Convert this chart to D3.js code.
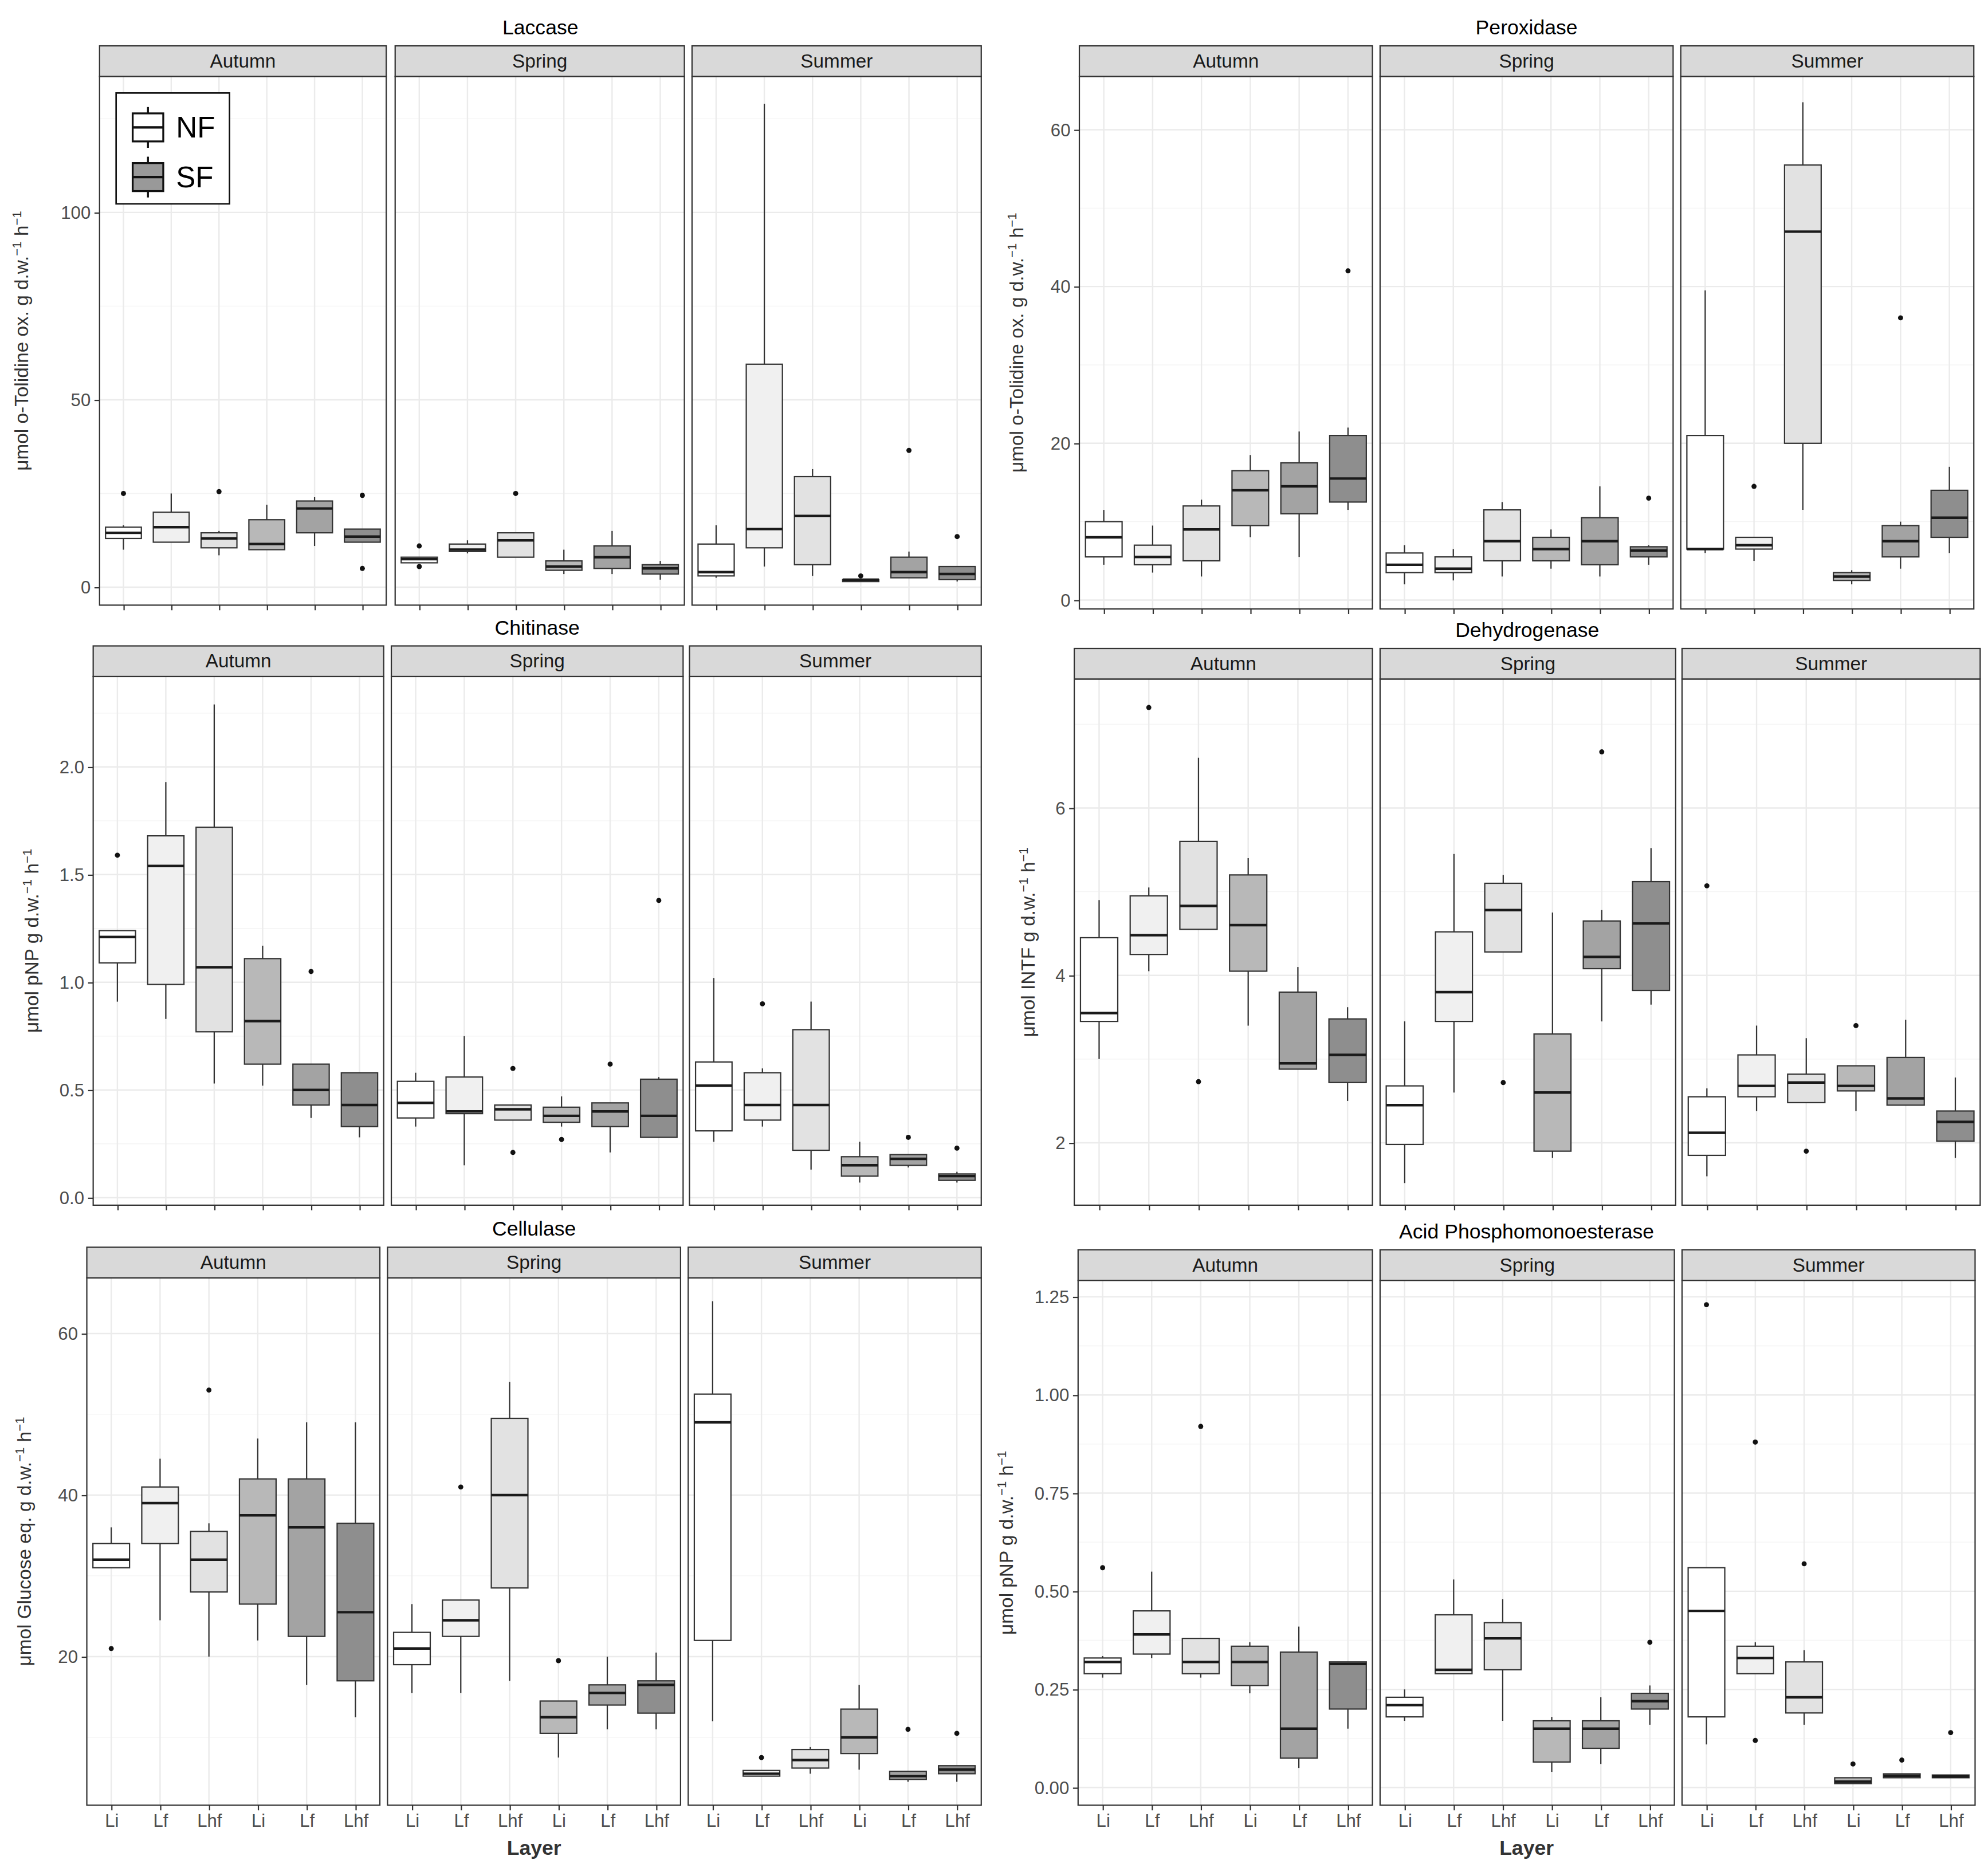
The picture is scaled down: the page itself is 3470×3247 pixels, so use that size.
<!DOCTYPE html>
<html><head><meta charset="utf-8">
<script src="https://cdn.jsdelivr.net/npm/d3@7"></script>
<style>body{margin:0;background:#fff}text{font-family:"Liberation Sans",Arial,sans-serif}</style>
</head><body><svg id="c" width="3470" height="3247" viewBox="0 0 1560 1460"></svg>
<script>
// each box: [lowWhisker, q1, median, q3, highWhisker, outliers]
const layers = ['Li', 'Lf', 'Lhf', 'Li', 'Lf', 'Lhf'];
const seasons = ['Autumn', 'Spring', 'Summer'];
const fills = ['#ffffff', '#f0f0f0', '#e2e2e2', '#b8b8b8', '#a3a3a3', '#8e8e8e'];

const laccaseAutumn = [[10,13,14.5,16,16.5,[25]],[12,12,16,20,25,[]],[8.5,10.5,13,14.5,15,[25.5]],[10,10,11.5,18,22,[]],[11,14.5,21,23,24,[]],[12,12,13.5,15.5,15.5,[24.5,5]]];
const laccaseSpring = [[6.5,6.5,7.5,8,8,[11,5.5]],[9,9.5,10,11.5,12.5,[]],[8,8,12.5,14.5,14.5,[25]],[3.5,4.5,5.5,7,10,[]],[3.5,5,8,11,15,[]],[2,3.5,5,6,7,[]]];
const laccaseSummer = [[2.5,3,4,11.5,16.5,[]],[5.5,10.5,15.5,59.5,129,[]],[3,6,19,29.5,31.5,[]],[1.5,1.5,2,2,2,[3]],[2.5,2.5,4,8,9.5,[36.5]],[1.5,2,3.5,5.5,5.5,[13.5]]];

const peroxAutumn = [[4.5,5.5,8,10,11.5,[]],[3.5,4.5,5.5,7,9.5,[]],[3,5,9,12,12.8,[]],[8,9.5,14,16.5,18.5,[]],[5.5,11,14.5,17.5,21.5,[]],[11.5,12.5,15.5,21,22,[42]]];
const peroxSpring = [[2,3.5,4.5,6,7,[]],[2.5,3.5,4,5.5,6.5,[]],[3,5,7.5,11.5,12.5,[]],[4,5,6.5,8,9,[]],[3,4.5,7.5,10.5,14.5,[]],[4.5,5.5,6.3,6.8,7,[13]]];
const peroxSummer = [[6,6.5,6.5,21,39.5,[]],[5,6.5,7,8,8,[14.5]],[11.5,20,47,55.5,63.5,[]],[2,2.5,3,3.5,3.8,[]],[4,5.5,7.5,9.5,10,[36]],[6,8,10.5,14,17,[]]];

const chitAutumn = [[0.91,1.09,1.21,1.24,1.24,[1.59]],[0.83,0.99,1.54,1.68,1.93,[]],[0.53,0.77,1.07,1.72,2.29,[]],[0.52,0.62,0.82,1.11,1.17,[]],[0.37,0.43,0.5,0.62,0.62,[1.05]],[0.28,0.33,0.43,0.58,0.58,[]]];
const chitSpring = [[0.33,0.37,0.44,0.54,0.58,[]],[0.15,0.39,0.4,0.56,0.75,[]],[0.36,0.36,0.41,0.43,0.43,[0.6,0.21]],[0.33,0.35,0.38,0.42,0.47,[0.27]],[0.21,0.33,0.4,0.44,0.44,[0.62]],[0.28,0.28,0.38,0.55,0.56,[1.38]]];
const chitSummer = [[0.26,0.31,0.52,0.63,1.02,[]],[0.33,0.36,0.43,0.58,0.6,[0.9]],[0.13,0.22,0.43,0.78,0.91,[]],[0.07,0.1,0.15,0.19,0.26,[]],[0.14,0.15,0.18,0.2,0.2,[0.28]],[0.07,0.08,0.1,0.11,0.12,[0.23]]];

const dehydAutumn = [[3.0,3.45,3.55,4.45,4.9,[]],[4.05,4.25,4.48,4.95,5.05,[7.2]],[4.55,4.55,4.83,5.6,6.6,[2.73]],[3.4,4.05,4.6,5.2,5.4,[]],[2.88,2.88,2.95,3.8,4.1,[]],[2.5,2.72,3.05,3.48,3.62,[]]];
const dehydSpring = [[1.52,1.98,2.45,2.68,3.45,[]],[2.6,3.45,3.8,4.52,5.45,[]],[4.28,4.28,4.78,5.1,5.2,[2.72]],[1.82,1.9,2.6,3.3,4.75,[]],[3.45,4.08,4.22,4.65,4.78,[6.67]],[3.65,3.82,4.62,5.12,5.52,[]]];
const dehydSummer = [[1.6,1.85,2.12,2.55,2.65,[5.07]],[2.38,2.55,2.68,3.05,3.4,[]],[2.48,2.48,2.72,2.82,3.25,[1.9]],[2.38,2.62,2.68,2.92,2.92,[3.4]],[2.45,2.45,2.53,3.02,3.47,[]],[1.82,2.02,2.25,2.38,2.78,[]]];

const cellAutumn = [[31,31,32,34,36,[21]],[24.5,34,39,41,44.5,[]],[20,28,32,35.5,36.5,[53]],[22,26.5,37.5,42,47,[]],[16.5,22.5,36,42,49,[]],[12.5,17,25.5,36.5,49,[]]];
const cellSpring = [[15.5,19,21,23,26.5,[]],[15.5,22.5,24.5,27,27,[41]],[17,28.5,40,49.5,54,[]],[7.5,10.5,12.5,14.5,14.5,[19.5]],[11,14,15.5,16.5,20,[]],[11,13,16.5,17,20.5,[]]];
const cellSummer = [[12,22,49,52.5,64,[]],[5.2,5.2,5.5,5.9,5.9,[7.5]],[5.5,6.2,7.2,8.5,8.8,[]],[6,8,10,13.5,16.5,[]],[4.5,4.8,5.2,5.8,5.8,[11]],[4.5,5.5,6,6.5,6.5,[10.5]]];

const phosAutumn = [[0.28,0.29,0.32,0.33,0.335,[0.56]],[0.33,0.34,0.39,0.45,0.55,[]],[0.28,0.29,0.32,0.38,0.38,[0.92]],[0.24,0.26,0.32,0.36,0.37,[]],[0.05,0.075,0.15,0.345,0.41,[]],[0.15,0.2,0.315,0.32,0.32,[]]];
const phosSpring = [[0.17,0.18,0.21,0.23,0.25,[]],[0.29,0.29,0.3,0.44,0.53,[]],[0.17,0.3,0.38,0.42,0.48,[]],[0.04,0.065,0.15,0.17,0.18,[]],[0.06,0.1,0.15,0.17,0.23,[]],[0.16,0.2,0.22,0.24,0.26,[0.37]]];
const phosSummer = [[0.11,0.18,0.45,0.56,0.56,[1.23]],[0.29,0.29,0.33,0.36,0.37,[0.88,0.12]],[0.16,0.19,0.23,0.32,0.35,[0.57]],[0.01,0.01,0.015,0.025,0.025,[0.06]],[0.025,0.025,0.03,0.035,0.035,[0.07]],[0.025,0.025,0.028,0.032,0.032,[0.14]]];

const laccaseTicks = [0, 50, 100];
const peroxTicks = [0, 20, 40, 60];
const chitTicks = [0, 0.5, 1, 1.5, 2];
const dehydTicks = [2, 4, 6];
const cellTicks = [20, 40, 60];
const phosTicks = [0, 0.25, 0.5, 0.75, 1, 1.25];

const svg = d3.select('#c');

function drawChart(o) {
  const g = svg.append('g');
  const y = d3.scaleLinear().domain(o.domain).range([o.bottom, o.top]);
  const step = (o.ticks[1] - o.ticks[0]) / 2;
  const minor = d3.range(o.ticks[0] - step, o.domain[1], step * 2).filter(v => v > o.domain[0] && v < o.domain[1]);
  g.append('text').attr('x', (o.panels[0][0] + o.panels[2][1]) / 2).attr('y', o.top - 33)
    .attr('text-anchor', 'middle').attr('font-size', 16).text(o.title);
  const ylab = g.append('text').attr('transform', `translate(${o.ylabX},${(o.top + o.bottom) / 2}) rotate(-90)`)
    .attr('text-anchor', 'middle').attr('font-size', 15).attr('fill', '#333');
  o.ylabel.forEach(p => ylab.append('tspan').attr('baseline-shift', p[1] ? 'super' : null)
    .attr('font-size', p[1] ? 10 : 15).text(p[0]));
  // y axis
  const ya = g.append('g').attr('transform', `translate(${o.panels[0][0]},0)`)
    .call(d3.axisLeft(y).tickValues(o.ticks).tickSize(4).tickFormat(o.fmt));
  ya.select('.domain').remove();
  ya.selectAll('line').attr('stroke', '#333');
  ya.selectAll('text').attr('font-size', 14).attr('fill', '#4d4d4d').attr('font-family', 'Liberation Sans, Arial');
  o.panels.forEach((pr, si) => {
    const x = d3.scalePoint().domain(d3.range(6)).range(pr).padding(0.5);
    const bw = x.step() * 0.75;
    const p = g.append('g');
    minor.forEach(v => p.append('line').attr('x1', pr[0]).attr('x2', pr[1]).attr('y1', y(v)).attr('y2', y(v)).attr('stroke', '#f4f4f4').attr('stroke-width', 0.6));
    o.ticks.forEach(v => p.append('line').attr('x1', pr[0]).attr('x2', pr[1]).attr('y1', y(v)).attr('y2', y(v)).attr('stroke', '#ebebeb').attr('stroke-width', 1.1));
    d3.range(6).forEach(i => p.append('line').attr('x1', x(i)).attr('x2', x(i)).attr('y1', o.top).attr('y2', o.bottom).attr('stroke', '#ebebeb').attr('stroke-width', 1.1));
    o.data[si].forEach((b, i) => {
      const cx = x(i);
      p.append('line').attr('x1', cx).attr('x2', cx).attr('y1', y(b[0])).attr('y2', y(b[4])).attr('stroke', '#333').attr('stroke-width', 1);
      p.append('rect').attr('x', cx - bw / 2).attr('width', bw).attr('y', y(b[3])).attr('height', Math.max(0.5, y(b[1]) - y(b[3])))
        .attr('fill', fills[i]).attr('stroke', '#333').attr('stroke-width', 1);
      p.append('line').attr('x1', cx - bw / 2).attr('x2', cx + bw / 2).attr('y1', y(b[2])).attr('y2', y(b[2])).attr('stroke', '#1a1a1a').attr('stroke-width', 2);
      b[5].forEach(v => p.append('circle').attr('cx', cx).attr('cy', y(v)).attr('r', 2).attr('fill', '#111'));
    });
    p.append('rect').attr('x', pr[0]).attr('y', o.top).attr('width', pr[1] - pr[0]).attr('height', o.bottom - o.top)
      .attr('fill', 'none').attr('stroke', '#333').attr('stroke-width', 1);
    p.append('rect').attr('x', pr[0]).attr('y', o.top - 24).attr('width', pr[1] - pr[0]).attr('height', 24)
      .attr('fill', '#d9d9d9').attr('stroke', '#333').attr('stroke-width', 1);
    p.append('text').attr('x', (pr[0] + pr[1]) / 2).attr('y', o.top - 7).attr('text-anchor', 'middle')
      .attr('font-size', 15).attr('fill', '#1a1a1a').text(seasons[si]);
    const xa = p.append('g').attr('transform', `translate(0,${o.bottom})`)
      .call(d3.axisBottom(x).tickSize(4).tickFormat(i => o.xlabels ? layers[i] : ''));
    xa.select('.domain').remove();
    xa.selectAll('line').attr('stroke', '#333');
    xa.selectAll('text').attr('font-size', 14).attr('fill', '#4d4d4d').attr('font-family', 'Liberation Sans, Arial');
  });
  if (o.xlabels) g.append('text').attr('x', (o.panels[0][0] + o.panels[2][1]) / 2).attr('y', o.bottom + 39)
    .attr('text-anchor', 'middle').attr('font-size', 16).attr('font-weight', 'bold').attr('fill', '#333').text('Layer');
  return g;
}

const fmt1 = d3.format('.1f'), fmt2 = d3.format('.2f'), fmt0 = d3.format('d');
drawChart({title: 'Laccase', top: 60, bottom: 475, domain: [-4.8, 136.3], ticks: laccaseTicks, fmt: fmt0, ylabX: 22,
  panels: [[78, 303], [310, 537], [543, 770]], data: [laccaseAutumn, laccaseSpring, laccaseSummer],
  ylabel: [['μmol o-Tolidine ox. g d.w.', 0], ['−1', 1], [' h', 0], ['−1', 1]]});
drawChart({title: 'Peroxidase', top: 60, bottom: 478, domain: [-1.14, 66.8], ticks: peroxTicks, fmt: fmt0, ylabX: 803,
  panels: [[847, 1077], [1083, 1313], [1319, 1549]], data: [peroxAutumn, peroxSpring, peroxSummer],
  ylabel: [['μmol o-Tolidine ox. g d.w.', 0], ['−1', 1], [' h', 0], ['−1', 1]]});
drawChart({title: 'Chitinase', top: 531, bottom: 946, domain: [-0.035, 2.42], ticks: chitTicks, fmt: fmt1, ylabX: 30,
  panels: [[73, 301], [307, 536], [541, 770]], data: [chitAutumn, chitSpring, chitSummer],
  ylabel: [['μmol pNP g d.w.', 0], ['−1', 1], [' h', 0], ['−1', 1]]});
drawChart({title: 'Dehydrogenase', top: 533, bottom: 946, domain: [1.255, 7.54], ticks: dehydTicks, fmt: fmt0, ylabX: 812,
  panels: [[843, 1077], [1083, 1315], [1320, 1554]], data: [dehydAutumn, dehydSpring, dehydSummer],
  ylabel: [['μmol INTF g d.w.', 0], ['−1', 1], [' h', 0], ['−1', 1]]});
drawChart({title: 'Cellulase', top: 1003, bottom: 1417, domain: [1.6, 66.9], ticks: cellTicks, fmt: fmt0, ylabX: 24,
  panels: [[68, 298], [304, 534], [540, 770]], data: [cellAutumn, cellSpring, cellSummer], xlabels: true,
  ylabel: [['μmol Glucose eq. g d.w.', 0], ['−1', 1], [' h', 0], ['−1', 1]]});
drawChart({title: 'Acid Phosphomonoesterase', top: 1005, bottom: 1417, domain: [-0.045, 1.292], ticks: phosTicks, fmt: fmt2, ylabX: 795,
  panels: [[846, 1077], [1083, 1314], [1320, 1550]], data: [phosAutumn, phosSpring, phosSummer], xlabels: true,
  ylabel: [['μmol pNP g d.w.', 0], ['−1', 1], [' h', 0], ['−1', 1]]});

// legend
const leg = svg.append('g').attr('transform', 'translate(91,73)');
leg.append('rect').attr('width', 89).attr('height', 87).attr('fill', '#fff').attr('stroke', '#111').attr('stroke-width', 1.2);
[['NF', '#ffffff'], ['SF', '#999999']].forEach((d, i) => {
  const gy = 27 + i * 39;
  leg.append('line').attr('x1', 25).attr('x2', 25).attr('y1', gy - 16).attr('y2', gy + 16).attr('stroke', '#111').attr('stroke-width', 1.5);
  leg.append('rect').attr('x', 13).attr('y', gy - 11).attr('width', 24).attr('height', 22).attr('fill', d[1]).attr('stroke', '#111').attr('stroke-width', 1.5);
  leg.append('line').attr('x1', 13).attr('x2', 37).attr('y1', gy).attr('y2', gy).attr('stroke', '#111').attr('stroke-width', 2);
  leg.append('text').attr('x', 47).attr('y', gy + 8).attr('font-size', 23).text(d[0]);
});
</script></body></html>
